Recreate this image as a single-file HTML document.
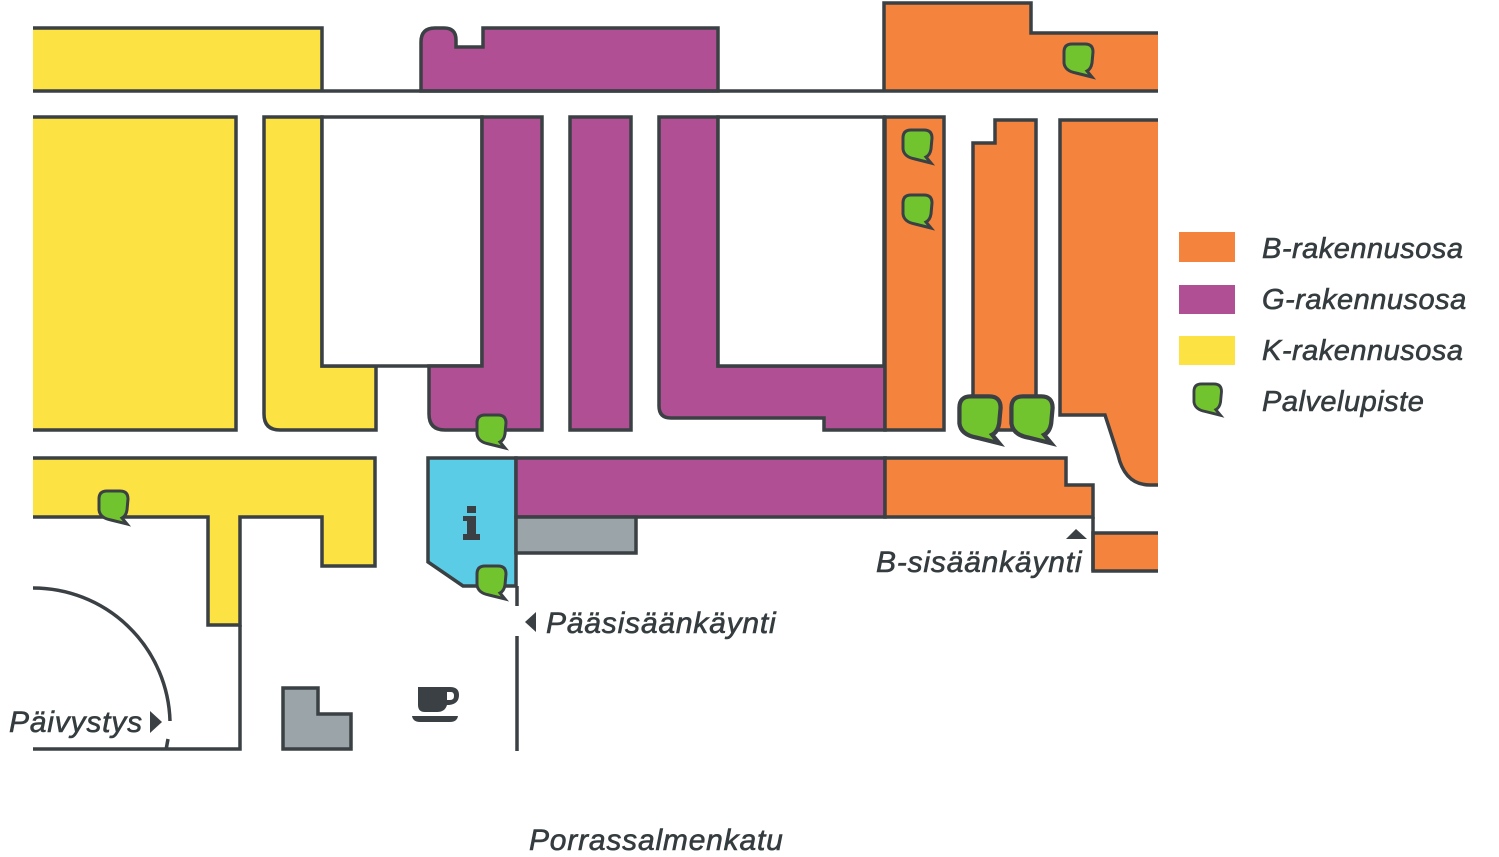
<!DOCTYPE html>
<html><head><meta charset="utf-8"><style>
html,body{margin:0;padding:0;background:#fff;}
svg{display:block;}
text{font-family:"Liberation Sans",sans-serif;font-style:italic;fill:#353c3f;stroke:#353c3f;stroke-width:0.6;}
</style></head><body>
<svg width="1499" height="857" viewBox="0 0 1499 857" xmlns="http://www.w3.org/2000/svg">
<defs>
<path id="bub" d="M1,9 Q1,1 9,1 L22,1 Q30,1 30,9 L29,20 Q28,26 24,28 L29,34 L13,30 Q2,28 1,20 Z"/>
</defs>
<g stroke="#3a4043" stroke-width="3.5" stroke-linejoin="miter">
<path d="M33,28 L322,28 L322,91 L33,91 Z" fill="#fde244" stroke="none"/>
<path d="M33,28 L322,28 L322,91" fill="none"/>
<path d="M421,91 L421,42 Q421,28 435,28 L444,28 Q456,28 456,40 L456,47 L483,47 L483,28 L718,28 L718,91 Z" fill="#b04f94"/>
<path d="M884,91 L884,3 L1031,3 L1031,33 L1158,33 L1158,91 Z" fill="#f4843d" stroke="none"/>
<path d="M884,91 L884,3 L1031,3 L1031,33 L1158,33" fill="none"/>
<line x1="33" y1="91" x2="1158" y2="91"/>
<path d="M33,117 L236,117 L236,430 L33,430 Z" fill="#fde244" stroke="none"/>
<path d="M33,117 L236,117 L236,430 L33,430" fill="none"/>
<path d="M264,117 L322,117 L322,366 L376,366 L376,430 L280,430 Q264,430 264,414 Z" fill="#fde244"/>
<rect x="322" y="117" width="160" height="249" fill="#fff"/>
<path d="M482,117 L542,117 L542,430 L445,430 Q429,430 429,414 L429,366 L482,366 Z" fill="#b04f94"/>
<rect x="570" y="117" width="61" height="313" fill="#b04f94"/>
<path d="M659,117 L718,117 L718,366 L885,366 L885,430 L824,430 L824,418 L671,418 Q659,418 659,406 Z" fill="#b04f94"/>
<rect x="718" y="117" width="166" height="249" fill="#fff"/>
<rect x="885" y="117" width="59" height="313" fill="#f4843d"/>
<path d="M973,430 L973,143 L995,143 L995,120 L1036,120 L1036,430 Z" fill="#f4843d"/>
<path d="M1158,120 L1060,120 L1060,415 L1105,415 L1118,455 Q1125,485 1150,485 L1158,485 Z" fill="#f4843d" stroke="none"/>
<path d="M1158,120 L1060,120 L1060,415 L1105,415 L1118,455 Q1125,485 1150,485 L1158,485" fill="none"/>
<path d="M33,458 L375,458 L375,566 L322,566 L322,517 L240,517 L240,625 L208,625 L208,517 L33,517 Z" fill="#fde244" stroke="none"/>
<path d="M33,458 L375,458 L375,566 L322,566 L322,517 L240,517 L240,625 L208,625 L208,517 L33,517" fill="none"/>
<path d="M428,458 L516,458 L516,586 L463,586 L428,562 Z" fill="#5bcce5"/>
<rect x="516" y="458" width="369" height="59" fill="#b04f94"/>
<path d="M885,458 L1066,458 L1066,485 L1093,485 L1093,517 L885,517 Z" fill="#f4843d"/>
<rect x="516" y="517" width="120" height="36" fill="#9aa4a9"/>
<path d="M1158,533 L1093,533 L1093,571 L1158,571" fill="#f4843d"/>
<line x1="1093" y1="517" x2="1093" y2="571"/>
<line x1="517" y1="586" x2="517" y2="606"/>
<line x1="517" y1="636" x2="517" y2="751"/>
<path d="M283,688 L318,688 L318,714 L351,714 L351,749 L283,749 Z" fill="#9aa4a9"/>
<path d="M240,625 L240,749 L33,749" fill="none"/>
<path d="M33,588 A137,137 0 0 1 170,721" fill="none"/>
<path d="M168,739 L166,750" fill="none"/>
</g>
<g fill="#72c42f" stroke="#3a4043" stroke-width="3">
<use href="#bub" transform="translate(476,414)"/>
<use href="#bub" transform="translate(98,490)"/>
<use href="#bub" transform="translate(476,565)"/>
<use href="#bub" transform="translate(902,129)"/>
<use href="#bub" transform="translate(902,194)"/>
<use href="#bub" transform="translate(1063,43)"/>
<use href="#bub" transform="translate(958,395) scale(1.42)"/>
<use href="#bub" transform="translate(1010,395) scale(1.42)"/>
<use href="#bub" transform="translate(1193,383) scale(0.95)"/>
</g>
<g fill="#3a4043">
<rect x="467" y="506" width="9" height="7"/>
<rect x="463" y="516" width="13" height="5"/>
<rect x="467" y="516" width="9" height="22"/>
<rect x="463" y="534" width="17" height="6"/>
<path d="M418,687 L450,687 Q459,687 459,695 Q459,704 449,705 L447,705 Q445,712 437,712 L425,712 Q418,712 418,705 Z"/>
<path d="M447,692 L451,692 Q454,692 454,696 Q454,700 450,700 L447,700 Z" fill="#fff"/>
<path d="M412,716 L458,716 Q457,722 450,722 L420,722 Q413,722 412,716 Z"/>
<path d="M1066,539 L1087,539 L1076,529 Z"/>
<path d="M536,612 L536,632 L525,622 Z"/>
<path d="M150,711 L150,733 L162,722 Z"/>
</g>
<rect x="1179" y="232" width="56" height="30" fill="#f4843d"/>
<rect x="1179" y="285" width="56" height="29" fill="#b04f94"/>
<rect x="1179" y="336" width="56" height="29" fill="#fde244"/>
<g font-size="29" letter-spacing="0.5">
<text x="1262" y="258">B-rakennusosa</text>
<text x="1262" y="309">G-rakennusosa</text>
<text x="1262" y="360">K-rakennusosa</text>
<text x="1262" y="411">Palvelupiste</text>
</g>
<g font-size="30" letter-spacing="0.8">
<text x="876" y="572">B-sisäänkäynti</text>
<text x="546" y="633">Pääsisäänkäynti</text>
<text x="9" y="732">Päivystys</text>
<text x="529" y="850">Porrassalmenkatu</text>
</g>
</svg>
</body></html>
